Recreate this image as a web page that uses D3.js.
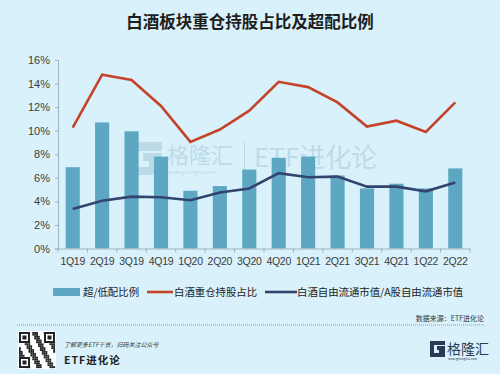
<!DOCTYPE html>
<html>
<head>
<meta charset="utf-8">
<script src="https://cdn.jsdelivr.net/npm/d3@7"></script>
<style>
  body { margin: 0; background: #d9f1fa; }
  svg { display: block; font-family: "Noto Sans CJK SC", "Noto Sans", sans-serif; }
</style>
</head>
<body>
<div class="container"></div>
<script>
const WIDTH = 500;
const HEIGHT = 374;

// data
const quarters = ["1Q19","2Q19","3Q19","4Q19","1Q20","2Q20","3Q20","4Q20","1Q21","2Q21","3Q21","4Q21","1Q22","2Q22"];
const overweight = [6.9, 10.7, 9.95, 7.8, 4.9, 5.3, 6.7, 7.7, 7.8, 6.2, 5.1, 5.5, 5.1, 6.8];
const holdingShare = [10.25, 14.75, 14.3, 12.1, 9.05, 10.1, 11.7, 14.15, 13.7, 12.4, 10.35, 10.85, 9.9, 12.4];
const marketCapShare = [3.35, 4.05, 4.4, 4.35, 4.1, 4.75, 5.1, 6.4, 6.05, 6.1, 5.25, 5.25, 4.85, 5.6];
const yTicks = [0, 2, 4, 6, 8, 10, 12, 14, 16];
const legendNames = ["超/低配比例", "白酒重仓持股占比", "白酒自由流通市值/A股自由流通市值"];

const BAR_COLOR = "#5ea7c3";
const RED = "#c5432a";
const NAVY = "#33446f";

var translate = function(x, y){
    return "translate(" + x + "," + y + ")";
};

var svg = d3.select(".container").append("svg")
    .attr("width", WIDTH)
    .attr("height", HEIGHT);

svg.append("rect")
    .attr("width", WIDTH)
    .attr("height", HEIGHT)
    .attr("fill", "#d9f1fa");

// title
svg.append("text")
    .attr("x", 250)
    .attr("y", 28)
    .attr("text-anchor", "middle")
    .attr("font-size", 16.5)
    .attr("font-weight", "bold")
    .attr("fill", "#1e1e1e")
    .text("白酒板块重仓持股占比及超配比例");

var xScale = d3.scaleBand()
    .domain(quarters)
    .range([58, 470])
    .paddingInner(0.52)
    .paddingOuter(0.26);

var yScale = d3.scaleLinear()
    .domain([0, 16])
    .range([248.5, 60]);

// watermark
var wm = svg.append("g").attr("opacity", 0.17).attr("fill", "#3a6f95");
wm.append("path")
    .attr("d", "M128,142 h34 v9 h-25 v16 h12 v-6 h-6 v-8 h19 v22 h-34 z")
    .attr("fill", "#3a6f95");
wm.append("text").attr("x", 167).attr("y", 163).attr("font-size", 22).text("格隆汇");
wm.append("text").attr("x", 168).attr("y", 174).attr("font-size", 5).text("www.gelonghui.com");
wm.append("rect").attr("x", 244).attr("y", 141).attr("width", 1).attr("height", 32);
wm.append("text").attr("x", 254).attr("y", 167).attr("font-size", 26).text("ETF进化论");

// bars
svg.append("g").selectAll("rect")
    .data(overweight)
    .enter()
    .append("rect")
    .attr("x", function(d, i){ return xScale(quarters[i]); })
    .attr("y", function(d){ return yScale(d); })
    .attr("width", xScale.bandwidth())
    .attr("height", function(d){ return yScale(0) - yScale(d); })
    .attr("fill", BAR_COLOR);

var line = d3.line()
    .x(function(d, i){ return xScale(quarters[i]) + xScale.bandwidth() / 2; })
    .y(function(d){ return yScale(d); });

svg.append("path")
    .datum(holdingShare)
    .attr("d", line)
    .attr("fill", "none")
    .attr("stroke", RED)
    .attr("stroke-width", 2.6);

svg.append("path")
    .datum(marketCapShare)
    .attr("d", line)
    .attr("fill", "none")
    .attr("stroke", NAVY)
    .attr("stroke-width", 2.6);

// axes
var yAxis = d3.axisLeft(yScale)
    .tickValues(yTicks)
    .tickSize(3)
    .tickPadding(5)
    .tickFormat(function(d){ return d + "%"; });

var yG = svg.append("g")
    .attr("transform", translate(58, 0))
    .call(yAxis);

var xAxis = d3.axisBottom(xScale)
    .tickSize(0)
    .tickPadding(9);

var xG = svg.append("g")
    .attr("transform", translate(0, 248.5))
    .call(xAxis);

// small ticks between categories
xG.selectAll(".sep")
    .data(d3.range(quarters.length + 1))
    .enter()
    .append("line")
    .attr("x1", function(i){ return 58 + i * (412 / quarters.length); })
    .attr("x2", function(i){ return 58 + i * (412 / quarters.length); })
    .attr("y1", 0)
    .attr("y2", 4)
    .attr("stroke", "#9fb4bf");

[yG, xG].forEach(function(g){
    g.select(".domain").attr("stroke", "#9fb4bf");
    g.selectAll(".tick line").attr("stroke", "#9fb4bf");
    g.selectAll(".tick text")
        .attr("font-size", 11)
        .attr("fill", "#3c3c3c")
        .attr("font-family", "Liberation Sans, Arial, sans-serif");
});
xG.selectAll(".tick text")
    .attr("font-size", 10.5)
    .attr("letter-spacing", -0.3);

// legend
var legend = svg.append("g").attr("font-size", 10.4).attr("fill", "#222");
legend.append("rect").attr("x", 53).attr("y", 288).attr("width", 27).attr("height", 8).attr("fill", BAR_COLOR);
legend.append("text").attr("x", 83).attr("y", 296).text(legendNames[0]);
legend.append("line").attr("x1", 147).attr("x2", 173).attr("y1", 292).attr("y2", 292)
    .attr("stroke", RED).attr("stroke-width", 2.6);
legend.append("text").attr("x", 174).attr("y", 296).text(legendNames[1]);
legend.append("line").attr("x1", 265).attr("x2", 297).attr("y1", 292).attr("y2", 292)
    .attr("stroke", NAVY).attr("stroke-width", 2.6);
legend.append("text").attr("x", 297).attr("y", 296).text(legendNames[2]);

// footer
svg.append("text")
    .attr("x", 484).attr("y", 321)
    .attr("text-anchor", "end")
    .attr("font-size", 7)
    .attr("fill", "#333")
    .text("数据来源：ETF进化论");

svg.append("line")
    .attr("x1", 17).attr("x2", 485)
    .attr("y1", 325).attr("y2", 325)
    .attr("stroke", "#8a9aa3")
    .attr("stroke-dasharray", "1,1");

// QR-like block
var qr = svg.append("g").attr("transform", translate(18, 331));
qr.append("rect").attr("width", 38).attr("height", 38).attr("fill", "#fff");
var cells = d3.range(0, 361);
qr.selectAll(".c")
    .data(cells)
    .enter()
    .append("rect")
    .attr("x", function(d){ return 1 + (d % 19) * 1.9; })
    .attr("y", function(d){ return 1 + Math.floor(d / 19) * 1.9; })
    .attr("width", 1.9).attr("height", 1.9)
    .attr("fill", function(d){ return ((d * 7919) % 13) < 6 ? "#222" : "#fff"; });
[[1,1],[26,1],[1,26]].forEach(function(p){
    qr.append("rect").attr("x", p[0]).attr("y", p[1]).attr("width", 11).attr("height", 11).attr("fill", "#222");
    qr.append("rect").attr("x", p[0] + 2).attr("y", p[1] + 2).attr("width", 7).attr("height", 7).attr("fill", "#fff");
    qr.append("rect").attr("x", p[0] + 3.5).attr("y", p[1] + 3.5).attr("width", 4).attr("height", 4).attr("fill", "#222");
});

svg.append("text")
    .attr("x", 64).attr("y", 347)
    .attr("font-size", 6)
    .attr("font-style", "italic")
    .attr("fill", "#333")
    .text("了解更多ETF干货，扫码关注公众号");

svg.append("text")
    .attr("x", 64).attr("y", 364)
    .attr("font-size", 10.5)
    .attr("font-weight", "bold")
    .attr("fill", "#222")
    .attr("letter-spacing", 1)
    .text("ETF进化论");

// logo at right
var logo = svg.append("g").attr("transform", translate(430, 341));
logo.append("path")
    .attr("d", "M0,0 h15 v4 h-11 v8 h5 v-3 h-2 v-4 h8 v11 h-15 z")
    .attr("fill", "#2a3a55");
logo.append("text").attr("x", 17).attr("y", 13).attr("font-size", 14).attr("fill", "#2a3a55").text("格隆汇");
logo.append("text").attr("x", 18).attr("y", 19).attr("font-size", 3).attr("fill", "#2a3a55").text("www.gelonghui.com");
</script>
</body>
</html>
